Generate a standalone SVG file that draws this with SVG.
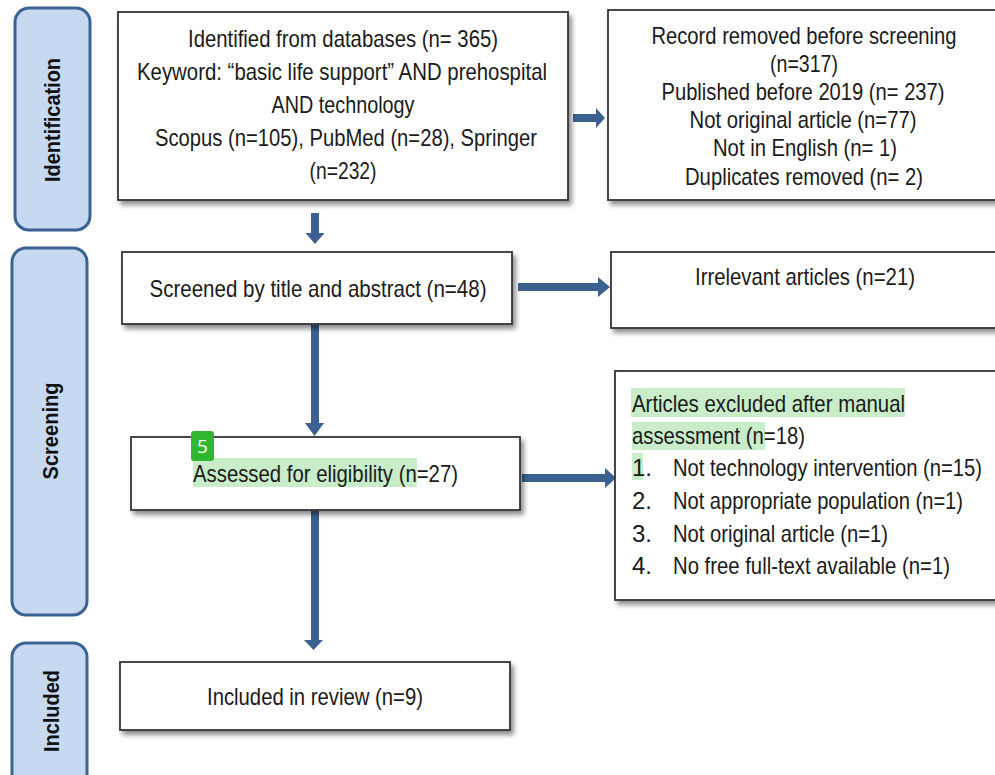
<svg xmlns="http://www.w3.org/2000/svg" width="995" height="775" viewBox="0 0 995 775">
<defs>
<style>
.lane{fill:#c6d9f1;stroke:#3a6395;stroke-width:3}
.lbl{font-family:"Liberation Sans",Arial,sans-serif;font-weight:bold;font-size:22px;fill:#111;text-anchor:middle}
.box{fill:#fff;stroke:#333;stroke-width:1.8;filter:url(#sh)}
.t{font-family:"Liberation Sans",Arial,sans-serif;font-size:24px;fill:#1a1a1a}
.c{text-anchor:middle}
.hl{fill:#c9ecc9}
.arr{fill:#3a6190}
</style>
<filter id="sh" x="-10%" y="-10%" width="125%" height="135%">
<feDropShadow dx="3" dy="4" stdDeviation="2.5" flood-color="#000" flood-opacity="0.45"/>
</filter>
</defs>
<rect width="995" height="775" fill="#fff"/>

<g id="lane-identification">
<rect class="lane" x="15" y="8" width="75" height="222" rx="14"/>
<text class="lbl" transform="translate(60,120) rotate(-90)" textLength="124" lengthAdjust="spacingAndGlyphs">Identification</text>
</g>
<g id="lane-screening">
<rect class="lane" x="12" y="248" width="75" height="367" rx="14"/>
<text class="lbl" transform="translate(58,431) rotate(-90)" textLength="97" lengthAdjust="spacingAndGlyphs">Screening</text>
</g>
<g id="lane-included">
<rect class="lane" x="12" y="643" width="75" height="150" rx="14"/>
<text class="lbl" transform="translate(59,711) rotate(-90)" textLength="82" lengthAdjust="spacingAndGlyphs">Included</text>
</g>

<g id="connectors">
<polygon class="arr" points="573,114 596,114 596,108 605,118 596,128 596,122 573,122"/>
<polygon class="arr" points="311,213 319,213 319,233 324.5,233 315,244 305.5,233 311,233"/>
<polygon class="arr" points="518,283 598,283 598,277 610,287 598,297 598,291 518,291"/>
<polygon class="arr" points="311,325 319,325 319,423 324,423 314.5,436 305,423 311,423"/>
<polygon class="arr" points="522,474 605,474 605,468 616,478 605,488 605,482 522,482"/>
<polygon class="arr" points="311,511 319,511 319,640 323,640 313.5,650 304,640 311,640"/>
</g>

<g id="identified">
<rect class="box" x="118" y="12" width="450" height="188"/>
<text class="t c" x="343" y="47" textLength="310" lengthAdjust="spacingAndGlyphs">Identified from databases (n= 365)</text>
<text class="t c" x="342" y="80" textLength="410" lengthAdjust="spacingAndGlyphs">Keyword: “basic life support” AND prehospital</text>
<text class="t c" x="343" y="113" textLength="143" lengthAdjust="spacingAndGlyphs">AND technology</text>
<text class="t c" x="346" y="146" textLength="382" lengthAdjust="spacingAndGlyphs">Scopus (n=105), PubMed (n=28), Springer</text>
<text class="t c" x="343" y="179" textLength="67" lengthAdjust="spacingAndGlyphs">(n=232)</text>
</g>

<g id="removed">
<rect class="box" x="608" y="10" width="400" height="190"/>
<text class="t c" x="804" y="44" textLength="305" lengthAdjust="spacingAndGlyphs">Record removed before screening</text>
<text class="t c" x="804" y="72" textLength="68" lengthAdjust="spacingAndGlyphs">(n=317)</text>
<text class="t c" x="803" y="100" textLength="283" lengthAdjust="spacingAndGlyphs">Published before 2019 (n= 237)</text>
<text class="t c" x="803" y="128" textLength="227" lengthAdjust="spacingAndGlyphs">Not original article (n=77)</text>
<text class="t c" x="805" y="156" textLength="184" lengthAdjust="spacingAndGlyphs">Not in English (n= 1)</text>
<text class="t c" x="804" y="185" textLength="238" lengthAdjust="spacingAndGlyphs">Duplicates removed (n= 2)</text>
</g>

<g id="screened">
<rect class="box" x="122" y="252" width="390" height="72"/>
<text class="t c" x="318" y="297" textLength="337" lengthAdjust="spacingAndGlyphs">Screened by title and abstract (n=48)</text>
</g>

<g id="irrelevant">
<rect class="box" x="611" y="252" width="400" height="76"/>
<text class="t c" x="805" y="285" textLength="220" lengthAdjust="spacingAndGlyphs">Irrelevant articles (n=21)</text>
</g>

<g id="assessed">
<rect class="box" x="131" y="437" width="389" height="73"/>
<rect class="hl" x="193" y="458" width="224" height="29"/>
<text class="t" x="193" y="482" textLength="265" lengthAdjust="spacingAndGlyphs">Assessed for eligibility (n=27)</text>
<rect x="191" y="431" width="23" height="30" rx="3" fill="#2fb72f"/>
<text x="202.5" y="453" font-family="'Open Sans','DejaVu Sans',sans-serif" font-size="19" fill="#fff" text-anchor="middle">5</text>
</g>

<g id="excluded">
<rect class="box" x="615" y="371" width="400" height="229"/>
<rect class="hl" x="631" y="388" width="274" height="29"/>
<rect class="hl" x="632" y="422" width="133" height="28"/>
<rect class="hl" x="632" y="453" width="11" height="27"/>
<text class="t" x="632" y="412" textLength="273" lengthAdjust="spacingAndGlyphs">Articles excluded after manual</text>
<text class="t" x="632" y="444" textLength="173" lengthAdjust="spacingAndGlyphs">assessment (n=18)</text>
<text class="t" x="632" y="476">1.</text>
<text class="t" x="673" y="476" textLength="309" lengthAdjust="spacingAndGlyphs">Not technology intervention (n=15)</text>
<text class="t" x="632" y="509">2.</text>
<text class="t" x="673" y="509" textLength="290" lengthAdjust="spacingAndGlyphs">Not appropriate population (n=1)</text>
<text class="t" x="632" y="542">3.</text>
<text class="t" x="673" y="542" textLength="215" lengthAdjust="spacingAndGlyphs">Not original article (n=1)</text>
<text class="t" x="632" y="574">4.</text>
<text class="t" x="673" y="574" textLength="277" lengthAdjust="spacingAndGlyphs">No free full-text available (n=1)</text>
</g>

<g id="included">
<rect class="box" x="120" y="662" width="390" height="68"/>
<text class="t c" x="315" y="705" textLength="216" lengthAdjust="spacingAndGlyphs">Included in review (n=9)</text>
</g>
</svg>
